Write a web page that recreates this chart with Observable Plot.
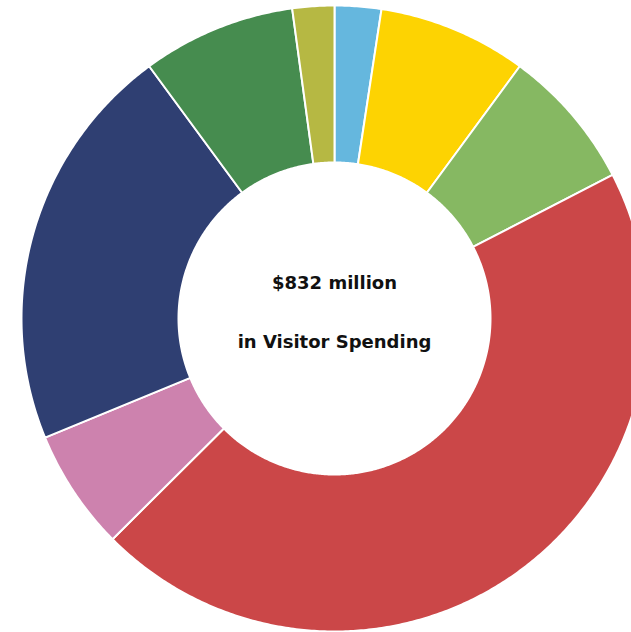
<!DOCTYPE html>
<html>
<head>
<meta charset="utf-8">
<script src="https://cdn.jsdelivr.net/npm/d3@7"></script>
<script src="https://cdn.jsdelivr.net/npm/@observablehq/plot@0.6"></script>
<style>
  html, body { margin: 0; padding: 0; background: #fff; overflow: hidden; }
</style>
</head>
<body>
<div id="chart"></div>
<script>
// Spending categories (clockwise from 12 o'clock), $ million
const categories = ["Transportation", "Recreation", "Retail", "Lodging", "Groceries", "Food & Beverage", "Camping", "Other"];
const values = [20, 64, 61, 376, 52, 176, 66, 18];
const colors = ["#65b7de", "#fdd302", "#86b862", "#cb4748", "#cd82ae", "#2f3f72", "#468c4f", "#b6b843"];
const centerLines = ["$832 million", "in Visitor Spending"];

const W = 631, H = 632;
const cx = 334, cy = 318;
const rOuter = 313, rInner = 156;

const pie = d3.pie().sort(null).value(d => d.value).startAngle(0).endAngle(2 * Math.PI);
const arcs = pie(categories.map((c, i) => ({category: c, value: values[i]})));

// build polygon outlines of each slice (angle clockwise from top)
const pts = [];
for (const a of arcs) {
  const n = Math.max(8, Math.ceil((a.endAngle - a.startAngle) * 120));
  for (let k = 0; k <= n; k++) {
    const t = a.startAngle + (a.endAngle - a.startAngle) * k / n;
    pts.push({category: a.data.category, x: rOuter * Math.sin(t), y: rOuter * Math.cos(t)});
  }
  for (let k = n; k >= 0; k--) {
    const t = a.startAngle + (a.endAngle - a.startAngle) * k / n;
    pts.push({category: a.data.category, x: rInner * Math.sin(t), y: rInner * Math.cos(t)});
  }
}

const labels = [
  {text: centerLines[0], y: 35},
  {text: centerLines[1], y: -24}
];

const chart = Plot.plot({
  width: W,
  height: H,
  margin: 0,
  x: {domain: [-cx, W - cx], range: [0, W], axis: null},
  y: {domain: [-(H - cy), cy], range: [H, 0], axis: null},
  color: {type: "ordinal", domain: categories, range: colors},
  style: {background: "#fff"},
  marks: [
    Plot.line(pts, {x: "x", y: "y", z: "category", fill: "category", stroke: "#fff", strokeWidth: 2, curve: "linear-closed"}),
    Plot.text(labels, {x: () => 0, y: "y", text: "text", fontSize: 18, fontWeight: "bold", fill: "#111", fontFamily: "DejaVu Sans, Verdana, sans-serif"})
  ]
});
document.getElementById("chart").append(chart);
</script>
</body>
</html>
